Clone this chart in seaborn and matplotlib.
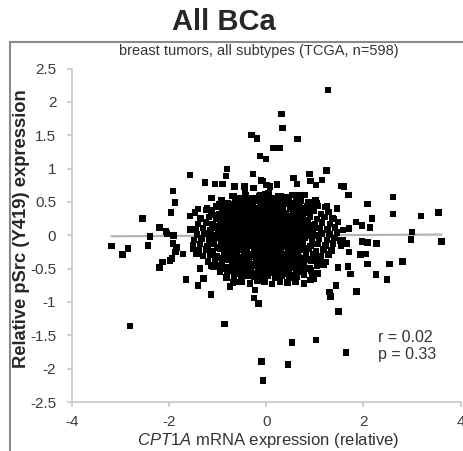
import matplotlib
matplotlib.use("Agg")
import matplotlib.pyplot as plt
from matplotlib.lines import Line2D
import numpy as np
import pandas as pd
import seaborn as sns

# ---------------- data ----------------
# sparse points above the dense cloud
upper_x = [1.27, 0.32, 0.34, -0.30, -0.19, 0.64, 0.15, 0.28, -0.13, 0.00,
           -0.81, -0.83, -1.57, -0.27, -1.26, -1.05, -0.90, -0.65, -0.67, -0.45,
           -0.44, -0.26, -0.11, -1.92, -1.88, -1.12, -1.40, -1.22, -0.89, -0.57,
           -0.08, 0.01, 0.08, 0.22, 0.56, 0.63, 0.89, 0.91, 1.03, 1.15,
           1.24, 1.55, 1.60, 1.69, 2.61, 2.08, 0.67, 0.79, 0.29, 0.05,
           -0.12, 0.08, 0.49, 0.91, 1.05, 1.25, 1.46]
upper_y = [2.18, 1.82, 1.61, 1.50, 1.45, 1.44, 1.31, 1.31, 1.19, 1.14,
           0.99, 0.89, 0.90, 0.92, 0.79, 0.77, 0.77, 0.73, 0.59, 0.73,
           0.67, 0.71, 0.82, 0.66, 0.49, 0.56, 0.39, 0.40, 0.45, 0.41,
           0.81, 0.75, 0.73, 0.76, 0.86, 0.77, 0.92, 0.81, 0.75, 0.83,
           0.97, 0.74, 0.73, 0.60, 0.57, 0.47, 0.60, 0.60, 0.59, 0.63,
           0.60, 0.48, 0.48, 0.45, 0.48, 0.43, 0.40]

# sparse points right of the cloud
right_x = [1.39, 1.85, 1.70, 1.97, 2.18, 2.14, 2.61, 3.19, 3.55, 3.00,
           2.98, 3.61, 1.97, 2.09, 2.27, 1.70, 1.94, 2.04, 1.53, 1.66,
           2.09, 2.54, 2.80, 1.48, 1.68, 1.73, 2.26, 2.49, 1.44, 1.30,
           1.32, 1.86, 1.49, 0.91, 0.98, 0.60]
right_y = [0.24, 0.20, 0.10, 0.15, 0.25, 0.12, 0.32, 0.29, 0.34, 0.05,
           -0.06, -0.09, -0.09, -0.11, -0.12, -0.25, -0.29, -0.28, -0.08, -0.12,
           -0.43, -0.43, -0.39, -0.48, -0.47, -0.58, -0.59, -0.66, -0.75, -0.85,
           -0.92, -0.84, -1.14, -0.67, -0.65, -0.69]

# sparse points left of / below-left of the cloud
left_x = [-2.54, -1.96, -1.57, -1.46, -1.24, -1.15, -2.19, -2.06, -1.91, -2.39,
          -2.43, -3.18, -2.96, -2.84, -1.92, -1.84, -1.86, -1.71, -1.50, -1.43,
          -1.94, -2.13, -2.19, -1.98, -1.36, -1.65, -1.29, -1.40, -1.13, -0.74,
          -1.12, -0.57, -0.86, -2.80, -1.57, -0.23, -0.25, -0.16, -2.04]
left_y = [0.25, 0.34, 0.29, 0.34, 0.38, 0.38, 0.12, 0.06, 0.00, -0.02,
          -0.15, -0.16, -0.29, -0.20, -0.12, -0.18, -0.25, -0.28, -0.20, -0.28,
          -0.35, -0.40, -0.48, -0.38, -0.50, -0.66, -0.65, -0.75, -0.89, -0.77,
          -0.45, -0.70, -1.33, -1.36, 0.09, -0.82, -0.94, -1.02, 0.03]

# low outliers
bottom_x = [-0.10, -0.06, 0.45, 0.53, 1.03, 1.64]
bottom_y = [-1.89, -2.18, -1.94, -1.61, -1.57, -1.76]

# dense central cloud (estimated, row by row from top to bottom)
core_x = [
    -0.70, -0.55, -0.42, -0.28, -0.15, -0.02, 0.12, 0.25, 0.40, 0.53, 0.68,
    -0.92, -0.78, -0.63, -0.50, -0.37, -0.24, -0.10, 0.03, 0.17, 0.30, 0.44, 0.58, 0.72, 0.87, 1.02,
    -1.02, -0.88, -0.74, -0.60, -0.46, -0.33, -0.20, -0.06, 0.08, 0.21, 0.35, 0.49, 0.63, 0.77, 0.92, 1.06, 1.22,
    -1.12, -0.97, -0.83, -0.68, -0.55, -0.41, -0.27, -0.14, 0.00, 0.13, 0.27, 0.41, 0.55, 0.69, 0.84, 0.98, 1.13, 1.28,
    -1.35, -1.18, -1.03, -0.89, -0.75, -0.61, -0.48, -0.35, -0.21, -0.08, 0.06, 0.19, 0.33, 0.47, 0.61, 0.75, 0.90, 1.05, 1.20, 1.36,
    -1.40, -1.24, -1.10, -0.95, -0.81, -0.67, -0.53, -0.40, -0.26, -0.12, 0.01, 0.15, 0.29, 0.43, 0.57, 0.71, 0.86, 1.00, 1.15, 1.31, 1.48,
    -1.45, -1.30, -1.15, -1.01, -0.87, -0.72, -0.58, -0.45, -0.31, -0.17, -0.04, 0.10, 0.24, 0.38, 0.52, 0.66, 0.80, 0.95, 1.10, 1.26, 1.42, 1.58,
    -1.42, -1.27, -1.12, -0.98, -0.84, -0.69, -0.55, -0.42, -0.28, -0.14, 0.00, 0.14, 0.28, 0.42, 0.56, 0.70, 0.84, 0.99, 1.14, 1.30, 1.46,
    -1.48, -1.33, -1.18, -1.04, -0.90, -0.75, -0.61, -0.47, -0.33, -0.19, -0.05, 0.09, 0.23, 0.37, 0.51, 0.65, 0.79, 0.94, 1.09, 1.25, 1.41, 1.57,
    -1.50, -1.36, -1.21, -1.07, -0.92, -0.78, -0.64, -0.50, -0.36, -0.22, -0.08, 0.06, 0.20, 0.34, 0.48, 0.62, 0.76, 0.91, 1.06, 1.22, 1.38, 1.54,
    -1.38, -1.23, -1.09, -0.95, -0.81, -0.67, -0.53, -0.39, -0.25, -0.11, 0.03, 0.17, 0.31, 0.45, 0.59, 0.73, 0.88, 1.03, 1.18, 1.34,
    -1.30, -1.15, -1.01, -0.87, -0.73, -0.59, -0.45, -0.31, -0.17, -0.03, 0.11, 0.25, 0.39, 0.53, 0.67, 0.82, 0.97, 1.12, 1.28,
    -1.20, -1.05, -0.91, -0.77, -0.63, -0.49, -0.35, -0.21, -0.07, 0.07, 0.21, 0.35, 0.49, 0.63, 0.78, 0.93, 1.08, 1.22,
    -1.08, -0.94, -0.80, -0.66, -0.52, -0.38, -0.24, -0.10, 0.04, 0.18, 0.32, 0.46, 0.60, 0.75, 0.90, 1.05, 1.18,
    -0.95, -0.80, -0.66, -0.52, -0.38, -0.24, -0.10, 0.04, 0.18, 0.32, 0.46, 0.61, 0.76, 0.92, 1.06,
    -0.82, -0.66, -0.52, -0.38, -0.24, -0.10, 0.04, 0.18, 0.32, 0.47, 0.62, 0.78, 0.95,
    -0.68, -0.50, -0.33, -0.18, -0.03, 0.12, 0.28, 0.44, 0.60, 0.78,
]
core_y = [
    0.59, 0.55, 0.60, 0.56, 0.58, 0.61, 0.55, 0.59, 0.57, 0.60, 0.56,
    0.52, 0.48, 0.51, 0.50, 0.47, 0.52, 0.49, 0.51, 0.48, 0.52, 0.50, 0.47, 0.51, 0.49, 0.52,
    0.43, 0.40, 0.44, 0.42, 0.39, 0.43, 0.41, 0.44, 0.40, 0.42, 0.45, 0.40, 0.43, 0.41, 0.39, 0.44, 0.42,
    0.35, 0.32, 0.36, 0.34, 0.31, 0.35, 0.33, 0.36, 0.32, 0.34, 0.37, 0.33, 0.35, 0.31, 0.34, 0.36, 0.32, 0.35,
    0.25, 0.27, 0.24, 0.28, 0.26, 0.23, 0.27, 0.25, 0.28, 0.24, 0.26, 0.29, 0.25, 0.27, 0.23, 0.26, 0.28, 0.24, 0.27, 0.25,
    0.17, 0.19, 0.16, 0.20, 0.18, 0.15, 0.19, 0.17, 0.20, 0.16, 0.18, 0.21, 0.17, 0.19, 0.15, 0.18, 0.20, 0.16, 0.19, 0.17, 0.20,
    0.09, 0.11, 0.08, 0.12, 0.10, 0.07, 0.11, 0.09, 0.12, 0.08, 0.10, 0.13, 0.09, 0.11, 0.07, 0.10, 0.12, 0.08, 0.11, 0.09, 0.12, 0.08,
    0.01, 0.03, 0.00, 0.04, 0.02, -0.01, 0.03, 0.01, 0.04, 0.00, 0.02, 0.05, 0.01, 0.03, -0.01, 0.02, 0.04, 0.00, 0.03, 0.01, 0.04,
    -0.07, -0.05, -0.08, -0.04, -0.06, -0.09, -0.05, -0.07, -0.04, -0.08, -0.06, -0.03, -0.07, -0.05, -0.09, -0.06, -0.04, -0.08, -0.05, -0.07, -0.04, -0.08,
    -0.15, -0.13, -0.16, -0.12, -0.14, -0.17, -0.13, -0.15, -0.12, -0.16, -0.14, -0.11, -0.15, -0.13, -0.17, -0.14, -0.12, -0.16, -0.13, -0.15, -0.12, -0.16,
    -0.23, -0.21, -0.24, -0.20, -0.22, -0.25, -0.21, -0.23, -0.20, -0.24, -0.22, -0.19, -0.23, -0.21, -0.25, -0.22, -0.20, -0.24, -0.21, -0.23,
    -0.31, -0.29, -0.32, -0.28, -0.30, -0.33, -0.29, -0.31, -0.28, -0.32, -0.30, -0.27, -0.31, -0.29, -0.33, -0.30, -0.28, -0.32, -0.29,
    -0.39, -0.37, -0.40, -0.36, -0.38, -0.41, -0.37, -0.39, -0.36, -0.40, -0.38, -0.35, -0.39, -0.37, -0.41, -0.38, -0.36, -0.40,
    -0.47, -0.45, -0.48, -0.44, -0.46, -0.49, -0.45, -0.47, -0.44, -0.48, -0.46, -0.43, -0.47, -0.45, -0.49, -0.46, -0.44,
    -0.55, -0.53, -0.56, -0.52, -0.54, -0.57, -0.53, -0.55, -0.52, -0.56, -0.54, -0.51, -0.55, -0.53, -0.57,
    -0.63, -0.61, -0.64, -0.60, -0.62, -0.65, -0.61, -0.63, -0.60, -0.64, -0.62, -0.59, -0.63,
    -0.71, -0.69, -0.72, -0.68, -0.70, -0.73, -0.69, -0.71, -0.68, -0.72,
]

# extra points filling the solid black centre of the cloud
centre_x = [
    -0.63, -0.49, -0.35, -0.21, -0.08, 0.05, 0.19, 0.33, 0.47, 0.61,
    -0.97, -0.83, -0.69, -0.55, -0.41, -0.27, -0.13, 0.01, 0.15, 0.28, 0.42, 0.56, 0.70, 0.84,
    -0.90, -0.76, -0.62, -0.48, -0.34, -0.20, -0.06, 0.07, 0.21, 0.35, 0.49, 0.62, 0.76,
    -1.04, -0.90, -0.76, -0.62, -0.48, -0.34, -0.20, -0.07, 0.07, 0.20, 0.34, 0.48, 0.62, 0.76, 0.90,
    -0.88, -0.74, -0.60, -0.46, -0.33, -0.19, -0.05, 0.08, 0.22, 0.36, 0.50, 0.64, 0.78,
    -1.03, -0.88, -0.74, -0.60, -0.46, -0.33, -0.19, -0.05, 0.08, 0.22, 0.36, 0.50, 0.64, 0.78, 0.93,
    -0.80, -0.65, -0.51, -0.38, -0.24, -0.10, 0.03, 0.17, 0.31, 0.45, 0.59, 0.73,
    -1.05, -0.91, -0.77, -0.62, -0.48, -0.35, -0.21, -0.07, 0.07, 0.21, 0.35, 0.49, 0.63, 0.77, 0.91,
    -0.82, -0.68, -0.54, -0.40, -0.26, -0.12, 0.02, 0.16, 0.30, 0.44, 0.58, 0.72,
    -1.00, -0.85, -0.71, -0.57, -0.43, -0.29, -0.15, -0.01, 0.13, 0.27, 0.41, 0.55, 0.69, 0.83,
    -0.74, -0.60, -0.46, -0.32, -0.18, -0.04, 0.10, 0.24, 0.38, 0.52, 0.66,
    -0.94, -0.80, -0.66, -0.52, -0.38, -0.24, -0.10, 0.04, 0.18, 0.32, 0.46, 0.60, 0.74, 0.89,
    -0.70, -0.56, -0.42, -0.28, -0.14, 0.00, 0.14, 0.28, 0.42, 0.56, 0.70,
    -0.87, -0.73, -0.59, -0.45, -0.31, -0.17, -0.03, 0.11, 0.25, 0.39, 0.53, 0.68, 0.83,
    -0.59, -0.45, -0.31, -0.17, -0.03, 0.11, 0.25, 0.39, 0.54,
]
centre_y = [
    0.54, 0.53, 0.55, 0.52, 0.54, 0.56, 0.53, 0.55, 0.52, 0.54,
    0.46, 0.45, 0.47, 0.44, 0.46, 0.48, 0.45, 0.47, 0.44, 0.46, 0.47, 0.45, 0.46, 0.44,
    0.38, 0.37, 0.39, 0.36, 0.38, 0.40, 0.37, 0.39, 0.36, 0.38, 0.39, 0.37, 0.38,
    0.30, 0.29, 0.31, 0.28, 0.30, 0.32, 0.29, 0.31, 0.28, 0.30, 0.31, 0.29, 0.30, 0.28, 0.31,
    0.22, 0.21, 0.23, 0.20, 0.22, 0.24, 0.21, 0.23, 0.20, 0.22, 0.23, 0.21, 0.22,
    0.14, 0.13, 0.15, 0.12, 0.14, 0.16, 0.13, 0.15, 0.12, 0.14, 0.15, 0.13, 0.14, 0.12, 0.15,
    0.06, 0.05, 0.07, 0.04, 0.06, 0.08, 0.05, 0.07, 0.04, 0.06, 0.07, 0.05,
    -0.02, -0.03, -0.01, -0.04, -0.02, 0.00, -0.03, -0.01, -0.04, -0.02, -0.01, -0.03, -0.02, -0.04, -0.01,
    -0.10, -0.11, -0.09, -0.12, -0.10, -0.08, -0.11, -0.09, -0.12, -0.10, -0.09, -0.11,
    -0.18, -0.19, -0.17, -0.20, -0.18, -0.16, -0.19, -0.17, -0.20, -0.18, -0.17, -0.19, -0.18, -0.20,
    -0.26, -0.27, -0.25, -0.28, -0.26, -0.24, -0.27, -0.25, -0.28, -0.26, -0.25,
    -0.34, -0.35, -0.33, -0.36, -0.34, -0.32, -0.35, -0.33, -0.36, -0.34, -0.33, -0.35, -0.34, -0.36,
    -0.42, -0.43, -0.41, -0.44, -0.42, -0.40, -0.43, -0.41, -0.44, -0.42, -0.41,
    -0.50, -0.51, -0.49, -0.52, -0.50, -0.48, -0.51, -0.49, -0.52, -0.50, -0.49, -0.51, -0.50,
    -0.58, -0.59, -0.57, -0.60, -0.58, -0.56, -0.59, -0.57, -0.60,
]

x_ticks = [-4, -2, 0, 2, 4]
x_tick_labels = ["-4", "-2", "0", "2", "4"]
y_ticks = [-2.5, -2, -1.5, -1, -0.5, 0, 0.5, 1, 1.5, 2, 2.5]
y_tick_labels = ["-2.5", "-2", "-1.5", "-1", "-0.5", "0", "0.5", "1", "1.5", "2", "2.5"]

title = "All BCa"
subtitle = "breast tumors, all subtypes (TCGA, n=598)"
x_label = r"$\mathit{CPT1A}$ mRNA expression (relative)"
y_label = "Relative pSrc (Y419) expression"
stat_r = "r = 0.02"
stat_p = "p = 0.33"

# ---------------- plotting ----------------
sns.set_theme(style="white")
plt.rcParams["font.family"] = ["Liberation Sans", "DejaVu Sans"]
plt.rcParams["mathtext.fontset"] = "custom"
plt.rcParams["mathtext.rm"] = "Liberation Sans"
plt.rcParams["mathtext.it"] = "Liberation Sans:italic"

df = pd.DataFrame({
    "cpt1a": upper_x + right_x + left_x + bottom_x + core_x + centre_x,
    "psrc": upper_y + right_y + left_y + bottom_y + core_y + centre_y,
})

W, H = 463, 451
fig = plt.figure(figsize=(W / 100, H / 100), dpi=100)
ax = fig.add_axes([71.7 / W, 1 - 402 / H, (460.6 - 71.7) / W, (402 - 68.5) / H])

sns.regplot(data=df, x="cpt1a", y="psrc", scatter=False, ci=None, ax=ax,
            line_kws=dict(color="#b4b4b4", lw=1.6, zorder=1))
sns.scatterplot(data=df, x="cpt1a", y="psrc", marker="s", s=22, color="black",
                edgecolor="none", linewidth=0, ax=ax, zorder=2, legend=False)

ax.set_xlim(-4, 4)
ax.set_ylim(-2.5, 2.5)
ax.set_xticks(x_ticks)
ax.set_xticklabels(x_tick_labels)
ax.set_yticks(y_ticks)
ax.set_yticklabels(y_tick_labels)
ax.set_xlabel("")
ax.set_ylabel("")
for side in ["top", "right"]:
    ax.spines[side].set_visible(False)
for side in ["left", "bottom"]:
    ax.spines[side].set_color("#c4c4c4")
    ax.spines[side].set_linewidth(1.1)
ax.tick_params(axis="both", direction="out", length=3.6, width=1.1, color="#c4c4c4",
               labelsize=11, labelcolor="#3a3a3a")
ax.tick_params(axis="y", pad=7.5, left=True)
ax.tick_params(axis="x", pad=5.5, bottom=True)
ax.set_facecolor("white")

# texts
fig.text(224 / W, 1 - 22 / H, title, fontsize=21, fontweight="bold", ha="center", va="center")
fig.text(259 / W, 1 - 51 / H, subtitle, fontsize=10.5, ha="center", va="center", color="#333333")
fig.text(21.5 / W, 1 - 229 / H, y_label, fontsize=13.2, fontweight="bold", rotation=90,
         ha="center", va="center")
fig.text(268 / W, 1 - 440 / H, x_label, fontsize=12, ha="center", va="center", color="#333333")
fig.text(378 / W, 1 - 337 / H, stat_r, fontsize=11.5, ha="left", va="center", color="#333333")
fig.text(378 / W, 1 - 355 / H, stat_p, fontsize=11.5, ha="left", va="center", color="#333333")

# outer frame (left and top edges visible)
fig.add_artist(Line2D([9.5 / W, 9.5 / W], [0, 1 - 41.5 / H], transform=fig.transFigure,
                      color="#8a8a8a", lw=1.5))
fig.add_artist(Line2D([9.5 / W, 1.0], [1 - 41.5 / H, 1 - 41.5 / H], transform=fig.transFigure,
                      color="#8a8a8a", lw=1.5))

fig.savefig("out.png", dpi=100)
